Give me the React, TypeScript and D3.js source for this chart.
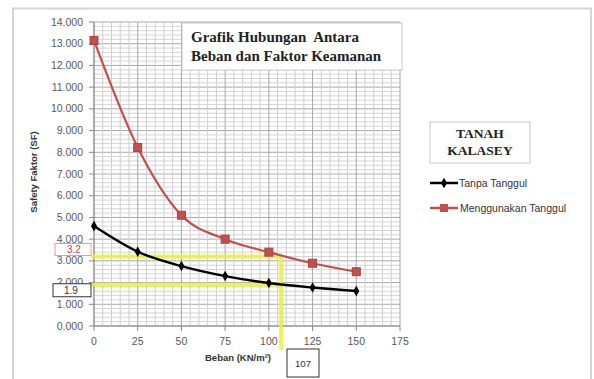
import React from "react";
import * as d3 from "d3";

const beban = [0, 25, 50, 75, 100, 125, 150];
const tanpaTanggul = [4.6, 3.42, 2.76, 2.3, 1.98, 1.77, 1.61];
const menggunakanTanggul = [13.15, 8.22, 5.1, 4.0, 3.4, 2.89, 2.5];
const xTicks = [0, 25, 50, 75, 100, 125, 150, 175];
const yTicks = [0, 1, 2, 3, 4, 5, 6, 7, 8, 9, 10, 11, 12, 13, 14];
const seriesNames = ["Tanpa Tanggul", "Menggunakan Tanggul"];
const titleLines = ["Grafik Hubungan  Antara", "Beban dan Faktor Keamanan"];
const legendTitle = ["TANAH", "KALASEY"];
const readX = 107;
const readY = [3.2, 1.9];
const readYLabels = ["3.2", "1.9"];

export default function App() {
  const W = 594, H = 379;
  const x = d3.scaleLinear().domain([0, 175]).range([94, 400]);
  const y = d3.scaleLinear().domain([0, 14]).range([326, 22]);
  const minorX = d3.range(0, 175.01, 5);
  const minorY = d3.range(0, 14.001, 0.2);
  const line = d3.line<number>().x((_, i) => x(beban[i])).y((d) => y(d)).curve(d3.curveMonotoneX);
  const diamond = d3.symbol().type(d3.symbolDiamond).size(32)();
  const sans = "Liberation Sans, Arial, sans-serif";
  const serif = "Liberation Serif, Times New Roman, serif";
  const red = "#c0504d";
  const yellow = "#e9f23c";
  return (
    <svg width={W} height={H} style={{ position: "absolute", left: 0, top: 0, background: "#fff" }}>
      <rect x={13} y={8.5} width={578} height={380} fill="#fff" stroke="#d4d4d4" strokeWidth={2} />
      {/* grid */}
      {minorY.map((v, i) => (
        <line key={"hy" + i} x1={x(0)} x2={x(175)} y1={y(v)} y2={y(v)} stroke={Math.abs(v - Math.round(v)) < 1e-6 ? "#a8a8a8" : "#d6d6d6"} strokeWidth={1} />
      ))}
      {minorX.map((v, i) => (
        <line key={"vx" + i} x1={x(v)} x2={x(v)} y1={y(0)} y2={y(14)} stroke={v % 25 === 0 ? "#a8a8a8" : "#cfcfcf"} strokeWidth={1} />
      ))}
      {/* axes */}
      <line x1={x(0)} x2={x(0)} y1={y(0)} y2={y(14)} stroke="#888" />
      <line x1={x(0)} x2={x(175)} y1={y(0)} y2={y(0)} stroke="#888" />
      {yTicks.map((t) => (
        <g key={"yt" + t}>
          <line x1={x(0) - 5} x2={x(0)} y1={y(t)} y2={y(t)} stroke="#888" />
          <text x={83} y={y(t) + 3.5} textAnchor="end" fontSize={10.5} fontFamily={sans} fill="#595959">{d3.format(".3f")(t)}</text>
        </g>
      ))}
      {xTicks.map((t) => (
        <g key={"xt" + t}>
          <line x1={x(t)} x2={x(t)} y1={y(0)} y2={y(0) + 5} stroke="#888" />
          <text x={x(t)} y={345} textAnchor="middle" fontSize={10.5} fontFamily={sans} fill="#595959">{t}</text>
        </g>
      ))}
      {/* title box */}
      <rect x={182} y={23} width={220} height={47} fill="#fff" stroke="#c8c8c8" />
      {titleLines.map((t, i) => (
        <text key={t} x={191} y={42 + i * 19} fontSize={15} fontWeight="bold" fontFamily={serif} fill="#222" style={{ whiteSpace: "pre" }}>{t}</text>
      ))}
      {/* reading lines */}
      {readY.map((v, i) => (
        <line key={"ry" + i} x1={91} x2={x(readX)} y1={y(v)} y2={y(v)} stroke={yellow} strokeWidth={4} opacity={0.85} />
      ))}
      <line x1={x(readX)} x2={x(readX)} y1={y(readY[0])} y2={350} stroke={yellow} strokeWidth={4} opacity={0.85} />
      {/* series */}
      <path d={line(menggunakanTanggul) || ""} fill="none" stroke={red} strokeWidth={2.2} />
      <path d={line(tanpaTanggul) || ""} fill="none" stroke="#000" strokeWidth={2.4} />
      {menggunakanTanggul.map((v, i) => (
        <rect key={"m" + i} x={x(beban[i]) - 4} y={y(v) - 4} width={8} height={8} fill={red} stroke="#b04040" />
      ))}
      {tanpaTanggul.map((v, i) => (
        <path key={"t" + i} d={diamond || ""} transform={`translate(${x(beban[i])},${y(v)})`} fill="#000" />
      ))}
      {/* read labels */}
      <rect x={55} y={y(readY[0]) - 13} width={36} height={12} fill="#fff" stroke="#e89a9a" />
      <text x={67} y={y(readY[0]) - 3.5} fontSize={10} fontFamily={sans} fill="#d04040">{readYLabels[0]}</text>
      <rect x={53} y={y(readY[1]) - 1} width={38} height={13} fill="#fff" stroke="#333" />
      <text x={64} y={y(readY[1]) + 9} fontSize={10} fontFamily={sans} fill="#333">{readYLabels[1]}</text>
      <rect x={287} y={349} width={32} height={28} fill="#fff" stroke="#333" />
      <text x={303} y={367} textAnchor="middle" fontSize={9.5} fontFamily={sans} fill="#333">{readX}</text>
      {/* axis titles */}
      <text x={238} y={361} textAnchor="middle" fontSize={9.5} fontWeight="bold" fontFamily={sans} fill="#333">Beban (KN/m²)</text>
      <text transform="translate(37,172) rotate(-90)" textAnchor="middle" fontSize={9.5} fontWeight="bold" fontFamily={sans} fill="#333">Safety Faktor (SF)</text>
      {/* legend */}
      <rect x={430} y={122} width={100} height={41} fill="#fff" stroke="#c8c8c8" />
      {legendTitle.map((t, i) => (
        <text key={t} x={480} y={138 + i * 17} textAnchor="middle" fontSize={13.5} fontWeight="bold" fontFamily={serif} fill="#222">{t}</text>
      ))}
      <line x1={430} x2={458} y1={183} y2={183} stroke="#000" strokeWidth={2.5} />
      <path d={diamond || ""} transform="translate(444,183)" fill="#000" />
      <text x={459} y={186.5} fontSize={10.5} fontFamily={sans} fill="#333">{seriesNames[0]}</text>
      <line x1={430} x2={458} y1={208} y2={208} stroke={red} strokeWidth={2.5} />
      <rect x={440} y={204} width={8} height={8} fill={red} />
      <text x={460} y={211.5} fontSize={10.5} fontFamily={sans} fill="#333">{seriesNames[1]}</text>
    </svg>
  );
}
